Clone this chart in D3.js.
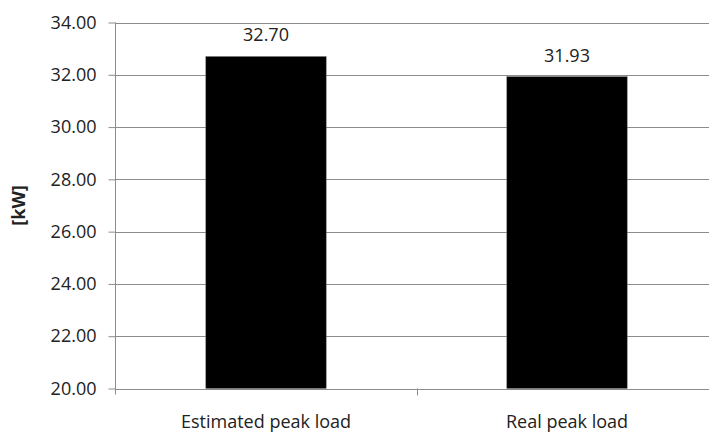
<!DOCTYPE html>
<html><head><meta charset="utf-8">
<script src="https://cdn.jsdelivr.net/npm/d3@7"></script>
<style>body{margin:0;background:#fff}svg{display:block}text{font-family:"Open Sans",sans-serif;fill:#222}</style>
</head><body><svg id="c" width="709" height="433"></svg>
<script>
const categories = ["Estimated peak load", "Real peak load"];
const values = [32.70, 31.93];
const yTicks = [20, 22, 24, 26, 28, 30, 32, 34];
const yLabel = "[kW]";

const svg = d3.select("#c");
const L = 115.5, R = 717.5, T = 22.5, B = 388.5;
const x = d3.scaleBand().domain(categories).range([L, R]).paddingInner(0).paddingOuter(0);
const y = d3.scaleLinear().domain([20, 34]).range([B, T]);
const barW = x.bandwidth() * 0.4;

// gridlines
svg.append("g").selectAll("line").data(yTicks).join("line")
  .attr("x1", L).attr("x2", R).attr("y1", d => Math.round(y(d)) + 0.5).attr("y2", d => Math.round(y(d)) + 0.5)
  .attr("stroke", "#8c8c8c").attr("stroke-width", 1);

// y axis
const yAxis = d3.axisLeft(y).tickValues(yTicks).tickSize(7).tickPadding(12).tickFormat(d3.format(".2f"));
const gy = svg.append("g").attr("transform", `translate(${L},0)`).call(yAxis);
gy.select(".domain").attr("stroke", "#8c8c8c").attr("d", `M0,${T}V${B + 6}`);
gy.selectAll(".tick line").attr("stroke", "#8c8c8c");
gy.selectAll(".tick text").attr("font-size", 18).attr("font-family", "Open Sans").attr("fill", "#222");

// x axis ticks (boundaries)
const boundaries = [x(categories[1])];
svg.append("g").selectAll("line").data(boundaries).join("line")
  .attr("x1", d => Math.round(d) + 0.5).attr("x2", d => Math.round(d) + 0.5)
  .attr("y1", B).attr("y2", B + 7).attr("stroke", "#8c8c8c");

// bars
svg.append("g").selectAll("rect").data(values).join("rect")
  .attr("x", (d, i) => x(categories[i]) + (x.bandwidth() - barW) / 2)
  .attr("width", barW)
  .attr("y", d => y(d))
  .attr("height", d => B - y(d))
  .attr("fill", "#000").attr("stroke", "#777").attr("stroke-width", 0.5);

// value labels
svg.append("g").selectAll("text").data(values).join("text")
  .attr("x", (d, i) => x(categories[i]) + x.bandwidth() / 2)
  .attr("y", d => y(d) - 15)
  .attr("text-anchor", "middle").attr("font-size", 18)
  .text(d => d.toFixed(2));

// category labels
svg.append("g").selectAll("text").data(categories).join("text")
  .attr("x", d => x(d) + x.bandwidth() / 2)
  .attr("y", 428)
  .attr("text-anchor", "middle").attr("font-size", 18)
  .text(d => d);

// y label
svg.append("text")
  .attr("transform", `translate(25,${(T + B) / 2}) rotate(-90)`)
  .attr("text-anchor", "middle").attr("font-size", 18).attr("font-weight", "bold")
  .text(yLabel);
</script></body></html>
